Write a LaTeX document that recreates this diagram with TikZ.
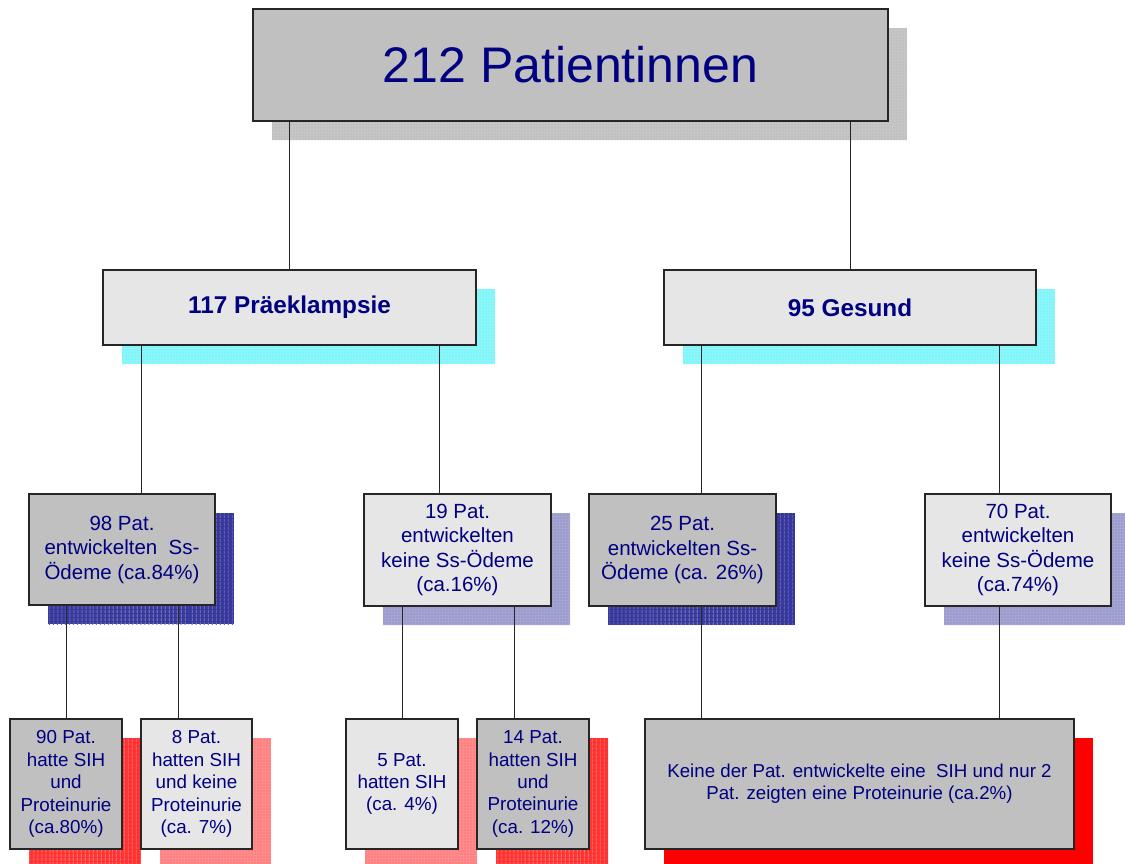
\documentclass[tikz,border=0pt]{standalone}
\usepackage{fontspec}
\setmainfont{Liberation Sans}
\usetikzlibrary{shadows,patterns.meta}
\definecolor{boxtext}{RGB}{0,0,128}
\definecolor{darkfill}{RGB}{192,192,192}
\definecolor{lightfill}{RGB}{230,230,230}
\definecolor{shadegray}{RGB}{128,128,128}
\definecolor{shadecyan}{RGB}{0,235,245}
\definecolor{shadeblue}{RGB}{55,55,155}
\definecolor{stripeblue}{RGB}{85,85,175}
\definecolor{shadered}{RGB}{255,50,50}
\definecolor{stripered}{RGB}{255,85,85}
\begin{document}
\begin{tikzpicture}[x=1pt, y=-1pt,
    box/.style={draw=black!85, line width=1.5pt, text=boxtext, align=center,
      inner sep=0pt, outer sep=0pt},
    dark/.style={box, fill=darkfill},
    light/.style={box, fill=lightfill},
    dotshadow/.style={general shadow={shadow xshift=19pt, shadow yshift=-19pt,
      fill=#1!45!white, postaction={pattern={Dots[distance=3pt, radius=0.4pt]},
      pattern color=#1}}},
    stripeshadow/.style 2 args={general shadow={shadow xshift=19pt, shadow yshift=-19pt,
      fill=#1, postaction={pattern={Lines[angle=90, distance=4pt, line width=1pt]},
      pattern color=#2}}},
    solidshadow/.style={general shadow={shadow xshift=19pt, shadow yshift=-19pt, fill=#1}},
    link/.style={line width=1pt, black!85},
    big/.style={font=\fontsize{50}{60}\selectfont},
    mid/.style={font=\fontsize{24.3}{28}\selectfont\bfseries},
    small/.style={font=\fontsize{20.5}{24.5}\selectfont},
    tiny/.style={font=\fontsize{18.8}{22.4}\selectfont},
    note/.style={font=\fontsize{18.7}{22}\selectfont}]
  \useasboundingbox (0,0) rectangle (1125,863);
  \clip (0,0) rectangle (1125,863);

  \node[dark, big, dotshadow=shadegray, minimum width=635, minimum height=112]
    (top) at (570.5,65) {212 Patientinnen};

  \node[light, mid, dotshadow=shadecyan, minimum width=373, minimum height=75]
    (pre) at (289.5,307.5) {117 Präeklampsie};
  \node[light, mid, dotshadow=shadecyan, minimum width=372, minimum height=75]
    (ges) at (850,307.5) {95 Gesund};

  \node[dark, small, stripeshadow={shadeblue}{stripeblue}, minimum width=186, minimum height=111]
    (a) at (122,549.5) {98 Pat.\\entwickelten\ \ Ss-\\Ödeme (ca.84\%)};
  \node[light, small, dotshadow=shadeblue, minimum width=187, minimum height=112]
    (b) at (457.5,550) {19 Pat.\\entwickelten\\keine Ss-Ödeme\\(ca.16\%)};
  \node[dark, small, stripeshadow={shadeblue}{stripeblue}, minimum width=187, minimum height=112]
    (c) at (682.5,550) {25 Pat.\\entwickelten Ss-\\Ödeme (ca. 26\%)};
  \node[light, small, dotshadow=shadeblue, minimum width=186, minimum height=112]
    (d) at (1018,550) {70 Pat.\\entwickelten\\keine Ss-Ödeme\\(ca.74\%)};

  \node[dark, tiny, stripeshadow={shadered}{stripered}, minimum width=112, minimum height=130]
    (aa) at (66,784) {90 Pat.\\hatte SIH\\und\\Proteinurie\\(ca.80\%)};
  \node[light, tiny, dotshadow=red, minimum width=111, minimum height=130]
    (ab) at (196.5,784) {8 Pat.\\hatten SIH\\und keine\\Proteinurie\\(ca. 7\%)};
  \node[light, tiny, dotshadow=red, minimum width=112, minimum height=130]
    (ba) at (402,784) {5 Pat.\\hatten SIH\\(ca. 4\%)};
  \node[dark, tiny, stripeshadow={shadered}{stripered}, minimum width=112, minimum height=130]
    (bb) at (533,784) {14 Pat.\\hatten SIH\\und\\Proteinurie\\(ca. 12\%)};
  \node[dark, note, solidshadow=red, minimum width=429, minimum height=130]
    (cd) at (859.5,784) {Keine der Pat. entwickelte eine\ \ SIH und nur 2\\Pat. zeigten eine Proteinurie (ca.2\%)};

  \draw[link] (top.south -| pre) -- (pre.north);
  \draw[link] (top.south -| ges) -- (ges.north);
  \draw[link] ([xshift=19pt]a.north |- pre.south) -- ([xshift=19pt]a.north);
  \draw[link] ([xshift=-18pt]b.north |- pre.south) -- ([xshift=-18pt]b.north);
  \draw[link] ([xshift=18.5pt]c.north |- ges.south) -- ([xshift=18.5pt]c.north);
  \draw[link] ([xshift=-19pt]d.north |- ges.south) -- ([xshift=-19pt]d.north);
  \draw[link] (a.south -| aa) -- (aa.north);
  \draw[link] ([xshift=-18.5pt]ab.north |- a.south) -- ([xshift=-18.5pt]ab.north);
  \draw[link] (b.south -| ba) -- (ba.north);
  \draw[link] ([xshift=-19pt]bb.north |- b.south) -- ([xshift=-19pt]bb.north);
  \draw[link] ([xshift=18.5pt]c.south) -- ([xshift=18.5pt]c.south |- cd.north);
  \draw[link] ([xshift=-19pt]d.south) -- ([xshift=-19pt]d.south |- cd.north);
\end{tikzpicture}
\end{document}
